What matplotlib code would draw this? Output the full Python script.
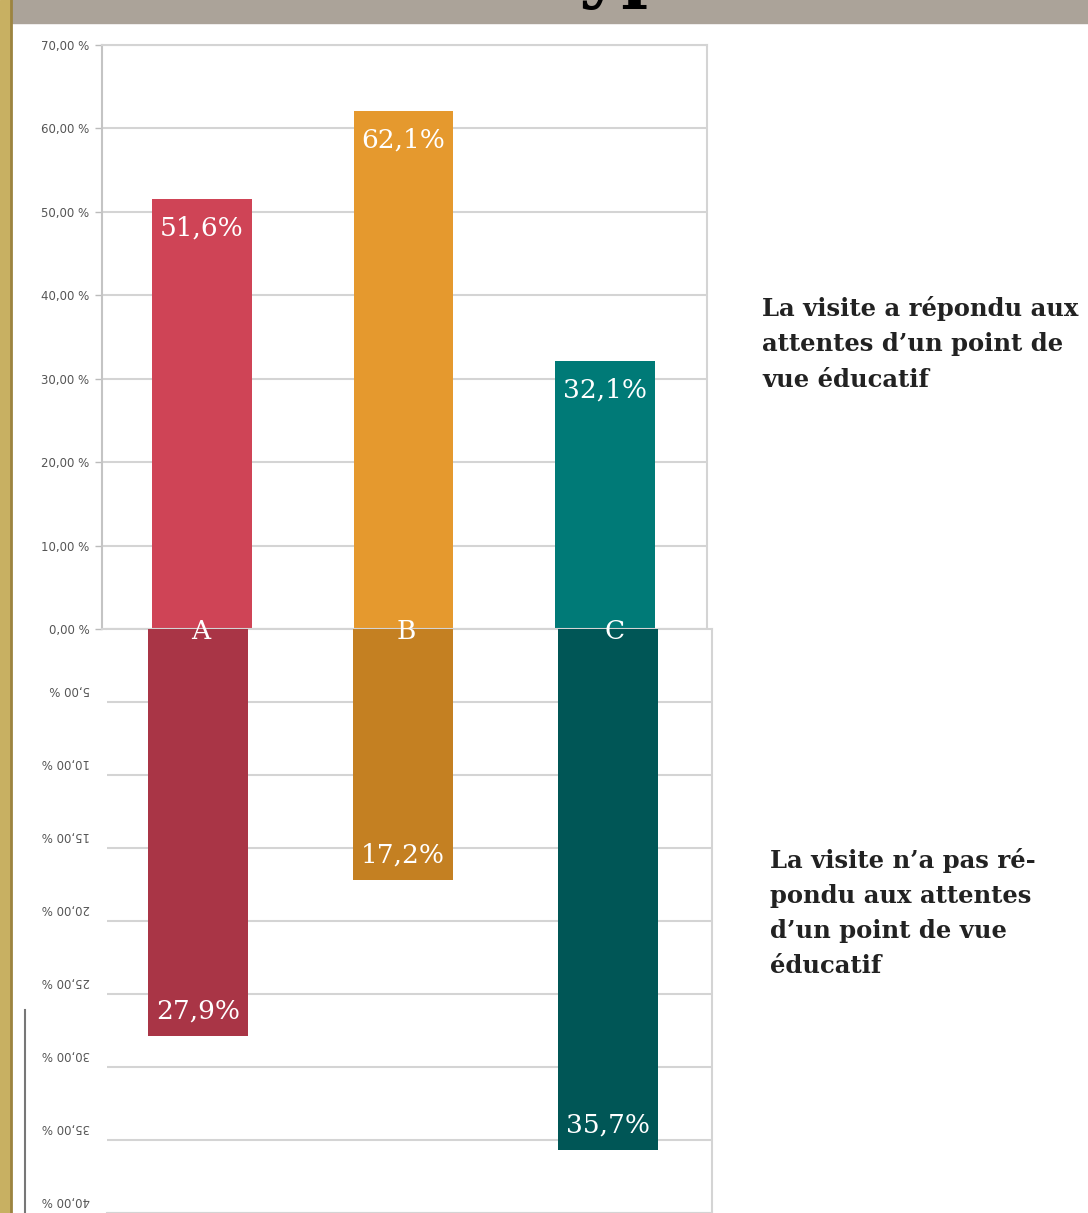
import matplotlib
matplotlib.use("Agg")
import matplotlib.pyplot as plt
from matplotlib.patches import Rectangle
from matplotlib.lines import Line2D

categories = ["A", "B", "C"]
oui = [51.6, 62.1, 32.1]
non = [27.9, 17.2, 35.7]
oui_labels = ["51,6%", "62,1%", "32,1%"]
non_labels = ["27,9%", "17,2%", "35,7%"]
top_ticks = [0, 10, 20, 30, 40, 50, 60, 70]
bottom_ticks = [5, 10, 15, 20, 25, 30, 35, 40]
oui_colors = ["#cf4456", "#e5992e", "#007a77"]
non_colors = ["#a93546", "#c48022", "#005656"]
text_oui = "La visite a répondu aux\nattentes d’un point de\nvue éducatif"
text_non = "La visite n’a pas ré-\npondu aux attentes\nd’un point de vue\néducatif"

W, H = 1088, 1213
fig = plt.figure(figsize=(W / 100, H / 100), dpi=100)
fig.patch.set_facecolor("white")


def fx(px):
    return px / W


def fy(py):
    return 1 - py / H


def pct(v):
    return ("%.2f %%" % v).replace(".", ",")


grid_col = "#d4d4d4"
tick_col = "#555555"

# upper panel
ax1 = fig.add_axes([fx(102), fy(629), fx(605), 584 / H])
x = list(range(len(categories)))
ax1.bar(x, oui, width=0.496, color=oui_colors, zorder=3)
ax1.set_xlim(-0.496, 2.506)
ax1.set_ylim(0, 70)
ax1.set_yticks(top_ticks)
ax1.set_yticklabels([pct(t) for t in top_ticks], fontsize=8.5, color=tick_col)
ax1.set_xticks([])
ax1.grid(axis="y", color=grid_col, lw=1.5, zorder=0)
ax1.tick_params(axis="y", length=5, width=1, color="#bbbbbb", pad=4)
for s in ax1.spines.values():
    s.set_color(grid_col)
    s.set_linewidth(1.5)
ax1.spines["left"].set_color("#c4c4c4")
for i, v in enumerate(oui):
    ax1.annotate(oui_labels[i], (x[i], v), xytext=(0, -21), textcoords="offset points",
                 ha="center", va="center", color="white", fontsize=19,
                 family="DejaVu Serif", zorder=5)

# lower panel (upside down labels)
ax2 = fig.add_axes([fx(107), 0, fx(605), 584 / H])
ax2.bar(x, non, width=0.49, color=non_colors, zorder=3)
ax2.set_xlim(-0.444, 2.507)
ax2.set_ylim(40, 0)
ax2.set_yticks(bottom_ticks)
ax2.set_yticklabels([])
ax2.set_xticks([])
ax2.grid(axis="y", color=grid_col, lw=1.5, zorder=0)
ax2.tick_params(axis="y", length=0)
for s in ax2.spines.values():
    s.set_color(grid_col)
    s.set_linewidth(1.5)
ax2.spines["left"].set_visible(False)
for t in bottom_ticks:
    ax2.annotate(pct(t), (0, t), xycoords=("axes fraction", "data"),
                 xytext=(-12, 9), textcoords="offset points", rotation=180,
                 ha="right", va="center", fontsize=8.5, color=tick_col,
                 annotation_clip=False)
for i, v in enumerate(non):
    ax2.annotate(non_labels[i], (x[i], v), xytext=(0, 18), textcoords="offset points",
                 ha="center", va="center", color="white", fontsize=19,
                 family="DejaVu Serif", zorder=5)
for i, c in enumerate(categories):
    ax2.annotate(c, (x[i], 0), xytext=(2 if i < 2 else 5, -2), textcoords="offset points",
                 ha="center", va="center", color="white", fontsize=19,
                 family="DejaVu Serif", zorder=6, annotation_clip=False)

# right-hand captions
fig.text(fx(762), fy(296), text_oui, ha="left", va="top", fontsize=17.5,
         family="DejaVu Serif", weight="bold", color="#222222", linespacing=1.6)
fig.text(fx(770), fy(848), text_non, ha="left", va="top", fontsize=17.5,
         family="DejaVu Serif", weight="bold", color="#222222", linespacing=1.58)

# page decoration: banner and golden border
fig.patches.append(Rectangle((fx(12), fy(23)), 1, 23 / H, transform=fig.transFigure,
                             color="#aba399", zorder=0))
fig.patches.append(Rectangle((0, 0), fx(10), 1, transform=fig.transFigure,
                             color="#c8b062", zorder=0))
fig.add_artist(Line2D([fx(11), fx(11)], [0, 1], color="#9c8440", lw=2))
fig.add_artist(Line2D([fx(25), fx(25)], [fy(1010), 0], color="#777777", lw=1.5))
fig.text(fx(632), fy(-6), "type", ha="center", va="baseline", fontsize=52,
         family="DejaVu Serif", weight="bold", color="black")

fig.savefig("out.png", dpi=100)
